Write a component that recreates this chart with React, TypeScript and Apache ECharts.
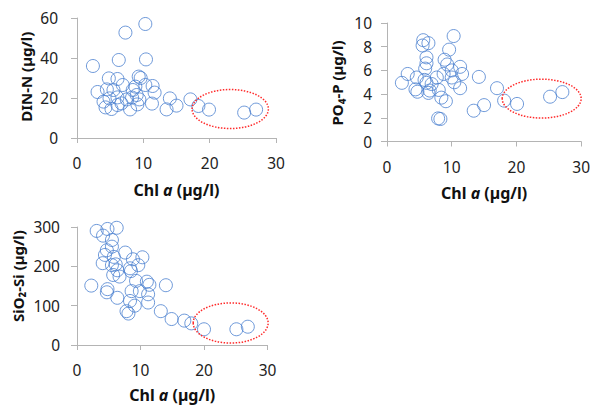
import React, { useEffect, useRef } from "react";
import * as echarts from "echarts";

// Panel 1: DIN-N vs Chl a
const dinChl = [2.4, 3.1, 7.3, 10.3, 6.3, 10.4, 4.8, 6.1, 9.3, 9.6, 6.9, 4.5, 5.5, 10.3, 11.4, 11.7, 8.8, 8.4, 9.0, 8.3, 7.5, 9.4, 6.1, 4.9, 4.0, 4.3, 5.2, 6.1, 6.7, 8.0, 9.1, 11.3, 14.0, 13.5, 15.0, 17.1, 18.3, 19.9, 25.2, 27.0];
const dinN = [36, 23, 52.7, 57, 39, 39.3, 29.8, 29.5, 30.7, 30, 26.5, 24.3, 24, 26.5, 26, 22.7, 25.7, 24, 21.5, 20.2, 19.3, 19.3, 20.3, 19.8, 18.2, 15.3, 14.5, 16.5, 17.3, 14.3, 16.8, 17.2, 19.8, 14.3, 16.2, 19.3, 16, 14.2, 12.7, 14.2];

// Panel 2: PO4-P vs Chl a
const poChl = [2.3, 3.2, 4.6, 4.4, 4.7, 5.6, 5.5, 6.4, 6.1, 6.1, 5.9, 5.8, 6.1, 6.6, 6.4, 6.9, 7.7, 8.0, 8.4, 9.1, 7.9, 8.25, 8.75, 8.9, 9.6, 10.3, 10.0, 10.0, 10.4, 11.3, 11.6, 11.3, 9.3, 14.2, 13.4, 15.0, 17.0, 18.1, 20.1, 25.2, 27.1];
const poP = [4.95, 5.7, 5.4, 4.4, 4.2, 8.55, 8.1, 8.3, 7.1, 6.6, 6.15, 5.2, 4.95, 4.3, 4.1, 4.85, 5.4, 4.35, 3.7, 3.4, 1.95, 1.9, 5.7, 6.9, 7.75, 8.9, 6.0, 5.4, 5.0, 6.3, 5.7, 4.5, 6.5, 5.45, 2.6, 3.07, 4.5, 3.45, 3.17, 3.78, 4.17];

// Panel 3: SiO2-Si vs Chl a
const siChl = [2.25, 3.1, 4.1, 4.8, 6.25, 5.5, 5.5, 4.7, 4.4, 5.8, 4.05, 5.5, 6.1, 6.35, 5.7, 6.7, 7.6, 8.8, 10.3, 9.65, 8.35, 8.5, 4.8, 4.7, 6.35, 9.3, 11.0, 11.4, 9.9, 8.6, 11.2, 8.35, 9.1, 7.8, 8.1, 11.2, 14.0, 13.2, 14.9, 16.9, 18.0, 20.0, 25.1, 26.9];
const siSi = [151, 290, 278, 295, 298, 267, 250, 241, 229, 224, 208, 203, 205, 190, 178, 174, 235, 218, 223, 203, 195, 188, 142, 134, 120, 163, 161, 153, 137, 137, 129, 112, 100, 86, 80, 108, 152, 86, 66, 62, 55, 40, 40, 46.5];

// Highlight ellipses (data units): [cx, cy, rx, ry]
const ellipseDIN = [23.1, 14.5, 5.75, 9.75];
const ellipsePO = [23.9, 3.62, 6.1, 1.64];
const ellipseSI = [24.2, 56, 5.9, 51];

// Axis titles
const yTitles = ["DIN-N (µg/l)", "PO₄-P (µg/l)", "SiO₂-Si (µg/l)"];
const xTitle = "{x|Chl }{i|a}{x| (µg/l)}";
const yTitleAnchor = [30.6, 4.94, 175]; // y value the rotated title is centred on

const xTicks = [0, 10, 20, 30];
const yMaxes = [60, 10, 300];
const yIntervals = [20, 2, 100];

const FONT = "Noto Sans";
const BLUE = "#4a7fd0";
const AXIS = "#b4b4b4";

const zip = (a: number[], b: number[]) => a.map((v, i) => [v, b[i]]);

export default function App() {
  const ref = useRef<HTMLDivElement>(null);
  useEffect(() => {
    const chart = echarts.init(ref.current!, undefined, { renderer: "svg" });
    const grids = [
      { left: 77, top: 18, width: 199, height: 120 },
      { left: 387, top: 23, width: 199, height: 118.5 },
      { left: 77, top: 227, width: 190.5, height: 118 },
    ];
    const yTitleOffset = [51, 50.5, 59];
    const yLabelMargins = [19, 15, 17];
    const xNameGaps = [44, 43.5, 42];
    const rich = {
      x: { fontFamily: FONT, fontWeight: "bold", fontSize: 16, color: "#111", lineHeight: 16 },
      i: { fontFamily: FONT, fontWeight: "bold", fontStyle: "italic", fontSize: 16, color: "#111", lineHeight: 16 },
    };
    const xAxis = grids.map((_, k) => ({
      type: "value",
      gridIndex: k,
      min: xTicks[0],
      max: xTicks[xTicks.length - 1],
      interval: 10,
      name: xTitle,
      nameLocation: "middle",
      nameGap: xNameGaps[k],
      nameTextStyle: { rich, fontSize: 16, fontFamily: FONT, fontWeight: "bold" },
      axisLine: { show: true, lineStyle: { color: AXIS, width: 1 } },
      axisTick: { show: true, length: 5, lineStyle: { color: AXIS } },
      splitLine: { show: false },
      axisLabel: { fontFamily: FONT, fontSize: 15.5, color: "#222", margin: 17 },
    }));
    const yAxis = grids.map((_, k) => ({
      type: "value",
      gridIndex: k,
      min: 0,
      max: yMaxes[k],
      interval: yIntervals[k],
      axisLine: { show: true, lineStyle: { color: AXIS, width: 1 } },
      axisTick: { show: true, length: 6, lineStyle: { color: AXIS } },
      splitLine: { show: false },
      axisLabel: { fontFamily: FONT, fontSize: 15.5, color: "#222", margin: yLabelMargins[k] },
    }));
    const mk = (k: number, data: number[][]) => ({
      type: "scatter",
      xAxisIndex: k,
      yAxisIndex: k,
      data,
      symbol: "circle",
      symbolSize: 13,
      itemStyle: { color: "rgba(255,255,255,0)", borderColor: BLUE, borderWidth: 1 },
    });
    chart.setOption({
      animation: false,
      grid: grids,
      xAxis,
      yAxis,
      series: [mk(0, zip(dinChl, dinN)), mk(1, zip(poChl, poP)), mk(2, zip(siChl, siSi))],
    });
    const ellipses = [ellipseDIN, ellipsePO, ellipseSI].map((e, k) => {
      const c = chart.convertToPixel({ gridIndex: k }, [e[0], e[1]]) as number[];
      const p = chart.convertToPixel({ gridIndex: k }, [e[0] + e[2], e[1] + e[3]]) as number[];
      return {
        type: "ellipse",
        shape: { cx: c[0], cy: c[1], rx: Math.abs(p[0] - c[0]), ry: Math.abs(p[1] - c[1]) },
        style: { fill: "none", stroke: "#ff2a2a", lineWidth: 1.5, lineDash: [1.5, 1.5] },
        z: 10,
      };
    });
    const titles = yTitles.map((t, k) => {
      const p = chart.convertToPixel({ gridIndex: k }, [0, yTitleAnchor[k]]) as number[];
      return {
        type: "text",
        x: p[0] - yTitleOffset[k],
        y: p[1],
        rotation: Math.PI / 2,
        style: {
          text: t,
          align: "center",
          verticalAlign: "middle",
          fontFamily: FONT,
          fontWeight: "bold",
          fontSize: 15,
          fill: "#111",
        },
        z: 10,
      };
    });
    chart.setOption({ graphic: [...ellipses, ...titles] });
    return () => chart.dispose();
  }, []);
  return (
    <div
      ref={ref}
      style={{ position: "absolute", left: 0, top: 0, width: 593, height: 405, background: "#fff" }}
    />
  );
}
